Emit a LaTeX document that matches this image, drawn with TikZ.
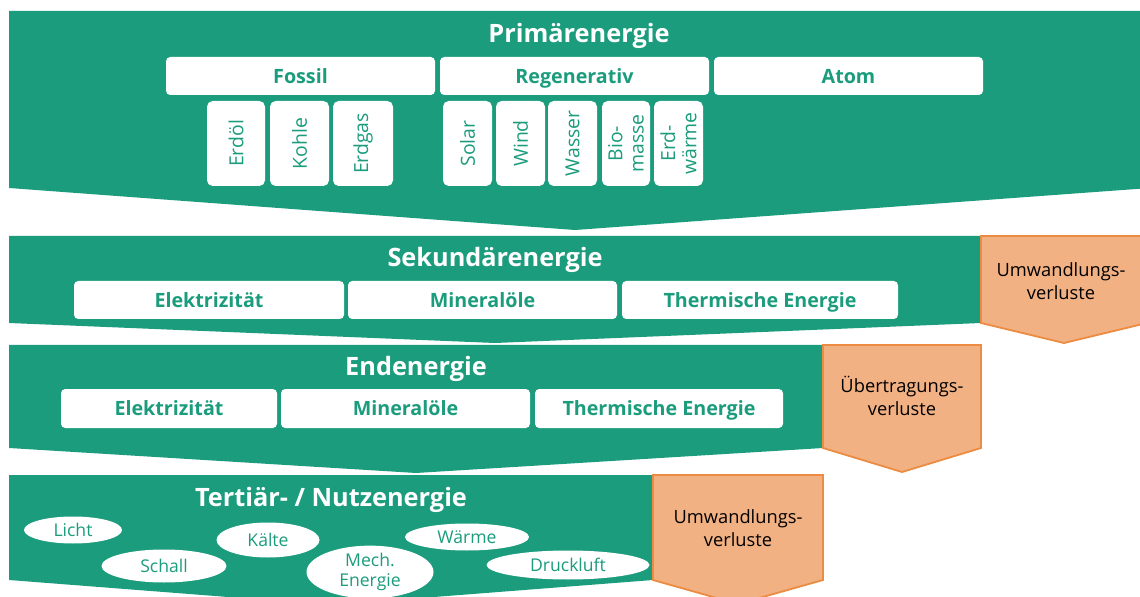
\documentclass[tikz,border=0pt]{standalone}
\usepackage{fontspec}
\setmainfont{Open Sans}
\usetikzlibrary{shapes.geometric}
\definecolor{stagegreen}{RGB}{26,156,125}
\definecolor{lossfill}{RGB}{242,177,131}
\definecolor{lossline}{RGB}{236,140,66}
\newcommand{\pxu}{0.025cm}

\begin{document}
\begin{tikzpicture}[x=0.025cm, y=-0.025cm,
	stage/.style={fill=stagegreen},
	lossbox/.style={fill=lossfill, draw=lossline, line width=1.3pt, line join=miter},
	stagetitle/.style={anchor=base, text=white, font=\fontsize{18}{20}\selectfont\bfseries},
	catbox/.style={fill=white, rounded corners=3pt, inner sep=0pt, text=stagegreen,
		text height=10.5pt, text depth=0pt, font=\fontsize{14}{15}\selectfont\bfseries},
	srcbox/.style={fill=white, rounded corners=4pt, inner sep=0pt, text=stagegreen, rotate=90,
		align=center, minimum width=85*\pxu, font=\fontsize{13.8}{15}\selectfont},
	useoval/.style={ellipse, fill=white, inner sep=0pt, text=stagegreen, align=center,
		font=\fontsize{12.5}{14}\selectfont},
	losstext/.style={align=center, text=black, font=\fontsize{13}{16}\selectfont}]
		\clip (0,0) rectangle (1140,597);

		% stages
		\fill[stage] (9,11) -- (1150,11) -- (1150,188) -- (575,230) -- (9,188) -- cycle;
		\fill[stage] (9,236) -- (981,236) -- (981,323) -- (495,343) -- (9,323) -- cycle;
		\fill[stage] (9,345) -- (823,345) -- (823,448) -- (416,473) -- (9,448) -- cycle;
		\fill[stage] (9,475) -- (653,475) -- (653,580) -- (331,605) -- (9,580) -- cycle;

		% losses
		\draw[lossbox] (981,236) -- (1147,236) -- (1147,323) -- (1064,343) -- (981,323) -- cycle;
		\draw[lossbox] (823,345) -- (981,345) -- (981,448) -- (902,472) -- (823,448) -- cycle;
		\draw[lossbox] (653,475) -- (823,475) -- (823,580) -- (738,604) -- (653,580) -- cycle;

		\node[stagetitle] (primtitle) at (579,43) {Primärenergie};
		\node[catbox, minimum width=269*\pxu, minimum height=38*\pxu] (fossil) at (300.5,76) {Fossil};
		\node[catbox, minimum width=269*\pxu, minimum height=38*\pxu] (regen) at (574.5,76) {Regenerativ};
		\node[catbox, minimum width=269*\pxu, minimum height=38*\pxu] (atom) at (848.5,76) {Atom};

		\node[srcbox, minimum height=58*\pxu] (erdoel) at (236,143.5) {Erdöl};
		\node[srcbox, minimum height=59*\pxu] (kohle) at (299.5,143.5) {Kohle};
		\node[srcbox, minimum height=60*\pxu] (erdgas) at (363,143.5) {Erdgas};
		\node[srcbox, minimum height=49*\pxu] (solar) at (467.5,143.5) {Solar};
		\node[srcbox, minimum height=49*\pxu] (wind) at (520.5,143.5) {Wind};
		\node[srcbox, minimum height=49*\pxu] (wasser) at (572.5,143.5) {Wasser};
		\node[srcbox, minimum height=48*\pxu] (biomasse) at (626,143.5) {Bio-\\masse};
		\node[srcbox, minimum height=49*\pxu] (erdwaerme) at (678.5,143.5) {Erd-\\wärme};

		\node[stagetitle] (sektitle) at (495,267) {Sekundärenergie};
		\node[catbox, minimum width=270*\pxu, minimum height=38*\pxu] (sekelek) at (209,300) {Elektrizität};
		\node[catbox, minimum width=269*\pxu, minimum height=38*\pxu] (sekmin) at (482.5,300) {Mineralöle};
		\node[catbox, minimum width=276*\pxu, minimum height=38*\pxu] (sektherm) at (760,300) {Thermische Energie};

		\node[stagetitle] (endtitle) at (416,375) {Endenergie};
		\node[catbox, minimum width=216*\pxu, minimum height=39*\pxu] (endelek) at (169,408.5) {Elektrizität};
		\node[catbox, minimum width=249*\pxu, minimum height=39*\pxu] (endmin) at (405.5,408.5) {Mineralöle};
		\node[catbox, minimum width=248*\pxu, minimum height=39*\pxu] (endtherm) at (659,408.5) {Thermische Energie};

		\node[stagetitle] (terttitle) at (331,506) {Tertiär- / Nutzenergie};
		\node[useoval, minimum width=98*\pxu, minimum height=27*\pxu] (licht) at (73,530) {Licht};
		\node[useoval, minimum width=125*\pxu, minimum height=33*\pxu] (schall) at (164,566) {Schall};
		\node[useoval, minimum width=103*\pxu, minimum height=35*\pxu] (kaelte) at (268,540) {Kälte};
		\node[useoval, minimum width=127*\pxu, minimum height=41*\pxu] (mech) at (370,572) {Mech.\\Energie};
		\node[useoval, minimum width=124*\pxu, minimum height=27*\pxu] (waerme) at (467,537) {Wärme};
		\node[useoval, minimum width=163*\pxu, minimum height=29*\pxu] (druckluft) at (568,565) {Druckluft};

		\node[losstext] (lossumw) at (1061,281) {Umwandlungs-\\verluste};
		\node[losstext] (lossueb) at (902,396) {Übertragungs-\\verluste};
		\node[losstext] (lossnutz) at (738,528) {Umwandlungs-\\verluste};
	\end{tikzpicture}
\end{document}
